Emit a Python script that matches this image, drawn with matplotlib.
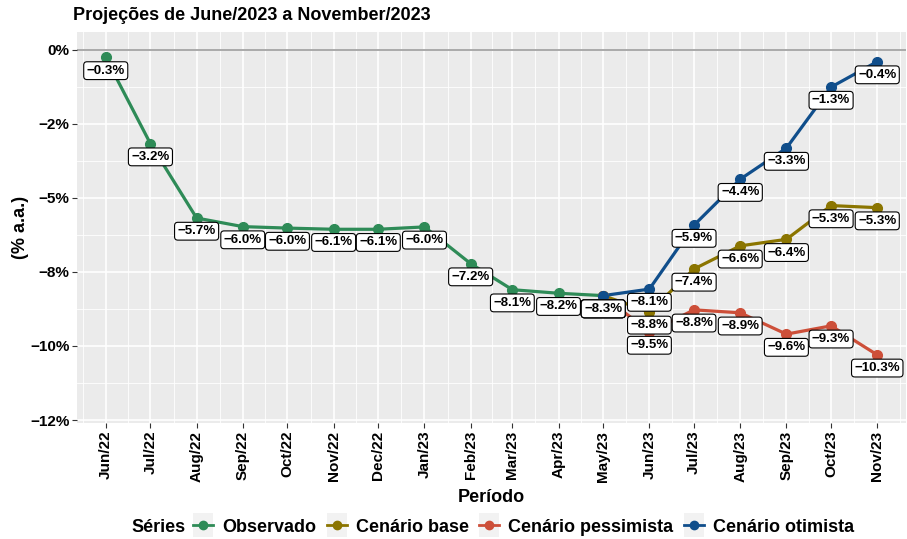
import numpy as np
import pandas as pd
import matplotlib
matplotlib.use('Agg')
import matplotlib.pyplot as plt
from matplotlib.lines import Line2D
from matplotlib.patches import Rectangle
from matplotlib.legend_handler import HandlerLine2D

plt.rcParams['font.family'] = ['Liberation Sans', 'DejaVu Sans']
plt.rcParams['font.weight'] = 'bold'

# dados
meses = pd.date_range('2022-06-01', '2023-11-01', freq='MS')
rotulos_x = ['Jun/22', 'Jul/22', 'Aug/22', 'Sep/22', 'Oct/22', 'Nov/22', 'Dec/22',
             'Jan/23', 'Feb/23', 'Mar/23', 'Apr/23', 'May/23', 'Jun/23', 'Jul/23',
             'Aug/23', 'Sep/23', 'Oct/23', 'Nov/23']
observado = [-0.26, -3.17, -5.68, -5.97, -6.02, -6.06, -6.06, -5.98, -7.22, -8.10, -8.22, -8.30]
meses_proj = meses[11:]
base = [-8.30, -8.85, -7.40, -6.62, -6.40, -5.26, -5.33]
pessimista = [-8.30, -9.53, -8.78, -8.88, -9.60, -9.32, -10.30]
otimista = [-8.30, -8.08, -5.92, -4.37, -3.32, -1.26, -0.40]

y_ticks = [0, -2.5, -5, -7.5, -10, -12.5]
y_rotulos = ['0%', '\u22122%', '\u22125%', '\u22128%', '\u221210%', '\u221212%']

cores = {'Observado': '#2E8B57', 'Cenário base': '#8B7500',
         'Cenário pessimista': '#CD4F39', 'Cenário otimista': '#104E8B'}

series = [('Observado', meses[:12], observado),
          ('Cenário base', meses_proj, base),
          ('Cenário pessimista', meses_proj, pessimista),
          ('Cenário otimista', meses_proj, otimista)]

fig = plt.figure(figsize=(9.07, 5.39), dpi=100)
ax = fig.add_axes([77 / 907, 116 / 539, 829 / 907, 391 / 539])
ax.set_facecolor('#EBEBEB')
for s in ax.spines.values():
    s.set_visible(False)

# grade
x0 = meses[0] - pd.Timedelta(days=19.3)
x1 = meses[-1] + pd.Timedelta(days=19.3)
ax.set_xlim(x0, x1)
ax.set_ylim(-12.6, 0.6)
meios = [meses[0] - pd.Timedelta(days=15.5)] + \
        [meses[i] + (meses[i + 1] - meses[i]) / 2 for i in range(len(meses) - 1)] + \
        [meses[-1] + pd.Timedelta(days=15)]
for m in meios:
    ax.axvline(m, color='white', lw=0.6, zorder=0)
for m in meses:
    ax.axvline(m, color='white', lw=1.2, zorder=0)
for v in [-1.25, -3.75, -6.25, -8.75, -11.25]:
    ax.axhline(v, color='white', lw=0.6, zorder=0)
for v in y_ticks:
    ax.axhline(v, color='white', lw=1.2, zorder=0)
ax.axhline(0, color='#A3A3A3', lw=1.3, zorder=1)

for nome, xs, ys in series:
    ax.plot(xs, ys, color=cores[nome], lw=2.3, zorder=2)
for nome, xs, ys in series:
    ax.plot(xs, ys, 'o', color=cores[nome], ms=7, zorder=3)

caixa = dict(boxstyle='round,pad=0.22,rounding_size=0.25', fc='white', ec='black', lw=0.8)
for nome, xs, ys in series:
    for x, y in zip(xs, ys):
        txt = f'{y:.1f}%'.replace('-', '\u2212')
        ax.annotate(txt, (x, y), xytext=(0, -9.5), textcoords='offset points',
                    ha='center', va='center', fontsize=9.5, fontweight='bold',
                    bbox=caixa, zorder=4)

ax.set_xticks(meses)
ax.set_xticklabels(rotulos_x, rotation=90, fontsize=11, fontweight='bold')
ax.set_yticks(y_ticks)
ax.set_yticklabels(y_rotulos, fontsize=11, fontweight='bold')
ax.tick_params(length=3.5, color='#333333', width=0.8, pad=2)

ax.set_xlabel('Período', fontsize=13, fontweight='bold', labelpad=5)
ax.set_ylabel('(% a.a.)', fontsize=13, fontweight='bold', labelpad=1)
fig.text(73 / 907, 1 - 16 / 539, 'Projeções de June/2023 a November/2023',
         fontsize=13, fontweight='bold', va='center', ha='left')


# legenda com fundo cinza nas chaves
class ChaveCinza(HandlerLine2D):
    def create_artists(self, legend, orig_handle, xdescent, ydescent, width, height, fontsize, trans):
        alt = 17
        r = Rectangle((-xdescent, -ydescent + (height - alt) / 2), width, alt,
                      fc='#F2F2F2', ec='none', transform=trans)
        arts = super().create_artists(legend, orig_handle, xdescent, ydescent, width, height, fontsize, trans)
        return [r] + arts


handles = [Line2D([], [], color=cores[n], lw=2.0, marker='o', ms=6) for n, _, _ in series]
leg = fig.legend(handles, [n for n, _, _ in series], loc='center left',
                 bbox_to_anchor=(193 / 907, 1 - 527 / 539), ncol=4, frameon=False,
                 fontsize=13, handlelength=1.1, handletextpad=0.5, columnspacing=0.6,
                 borderpad=0, borderaxespad=0,
                 handler_map={Line2D: ChaveCinza(numpoints=1)})
fig.text(131 / 907, 1 - 527 / 539, 'Séries', fontsize=13, fontweight='bold', va='center', ha='left')

fig.savefig('out.png', dpi=100)
